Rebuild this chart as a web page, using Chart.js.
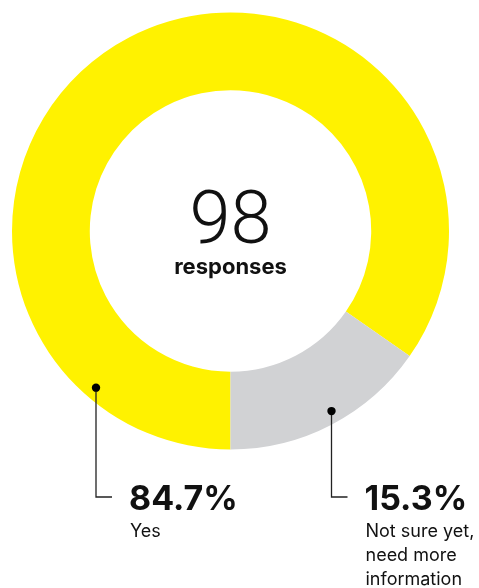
<!DOCTYPE html>
<html>
<head>
<meta charset="utf-8">
<script src="https://cdn.jsdelivr.net/npm/chart.js@4.4.0/dist/chart.umd.min.js"></script>
<style>
  html, body { margin: 0; padding: 0; background: #fff; }
  .wrap { position: relative; width: 479px; height: 588px; }
</style>
</head>
<body>
<div class="wrap"><canvas id="c"></canvas></div>
<script>
const labels = ['Yes', 'Not sure yet, need more information'];
const labelLines = [['Yes'], ['Not sure yet,', 'need more', 'information']];
const values = [84.7, 15.3];
const colors = ['#FFF200', '#D1D2D4'];
const totalResponses = 98;

// callout settings: horizontal offset of the dot from the centre
const callouts = [{ dx: -134.5 }, { dx: 101 }];

const calloutPlugin = {
    id: 'callouts',
    afterDraw(chart) {
        const ctx = chart.ctx;
        const meta = chart.getDatasetMeta(0);
        const arc0 = meta.data[0];
        const cx = arc0.x, cy = arc0.y;
        const r = arc0.outerRadius * 0.945;
        const lineY = 497;

        // centre text
        ctx.save();
        ctx.fillStyle = '#111';
        ctx.textAlign = 'center';
        ctx.textBaseline = 'alphabetic';
        ctx.font = '300 74px Roboto';
        ctx.fillText(String(totalResponses), cx, cy + 12);
        ctx.font = 'bold 22px Inter';
        ctx.fillText('responses', cx, cy + 43);

        meta.data.forEach((arc, i) => {
            const dx = callouts[i].dx;
            const x = cx + dx;
            const y = cy + Math.sqrt(r * r - dx * dx);
            ctx.strokeStyle = '#222';
            ctx.lineWidth = 1.3;
            ctx.beginPath();
            ctx.moveTo(x, y);
            ctx.lineTo(x, lineY);
            ctx.lineTo(x + 16, lineY);
            ctx.stroke();
            ctx.fillStyle = '#000';
            ctx.beginPath();
            ctx.arc(x, y, 4.2, 0, Math.PI * 2);
            ctx.fill();

            const tx = x + 33;
            ctx.textAlign = 'left';
            ctx.fillStyle = '#111';
            ctx.font = 'bold 34px Inter';
            ctx.fillText(values[i].toFixed(1) + '%', tx, 510);
            ctx.font = '18px Inter';
            labelLines[i].forEach((t, k) => {
                ctx.fillText(t, tx + 1, 537 + k * 24);
            });
        });
        ctx.restore();
    }
};

new Chart(document.getElementById('c'), {
    type: 'doughnut',
    data: {
        labels: labels,
        datasets: [{
            data: values,
            backgroundColor: colors,
            borderWidth: 0,
            hoverOffset: 0
        }]
    },
    options: {
        responsive: true,
        maintainAspectRatio: false,
        animation: false,
        rotation: 180,
        cutout: '64.4%',
        layout: { padding: { left: 12, right: 30, top: 12, bottom: 138 } },
        plugins: {
            legend: { display: false },
            tooltip: { enabled: false }
        }
    },
    plugins: [calloutPlugin]
});
</script>
</body>
</html>
